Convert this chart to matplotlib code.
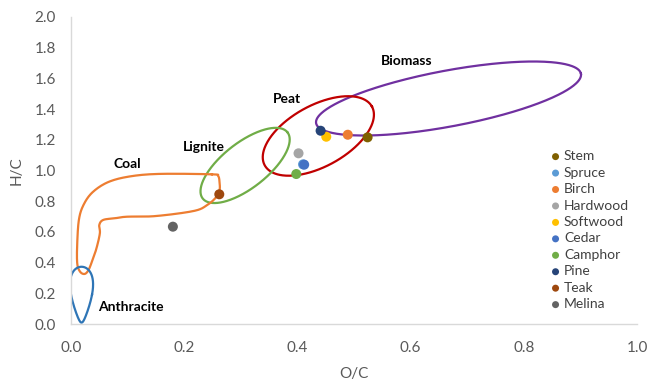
import numpy as np
import matplotlib
matplotlib.use("Agg")
import matplotlib.pyplot as plt
from matplotlib.ticker import FormatStrFormatter

# Biomass samples: atomic O/C and H/C ratios
samples = ["Stem", "Spruce", "Birch", "Hardwood", "Softwood",
           "Cedar", "Camphor", "Pine", "Teak", "Melina"]
o_c = [0.524, 0.410, 0.489, 0.402, 0.451, 0.412, 0.398, 0.441, 0.262, 0.180]
h_c = [1.216, 1.040, 1.233, 1.112, 1.220, 1.038, 0.977, 1.259, 0.845, 0.634]
sample_colors = ["#7F6000", "#5B9BD5", "#ED7D31", "#A5A5A5", "#FFC000",
                 "#4472C4", "#70AD47", "#264478", "#9E480E", "#636363"]

# Fuel regions approximated as ellipses:
# centre O/C, centre H/C, semi-major, semi-minor (in O/C units), tilt (deg)
region_names = ["Biomass", "Peat", "Lignite"]
region_center_oc = [0.667, 0.437, 0.3076]
region_center_hc = [1.469, 1.225, 1.033]
region_semi_major = [0.238, 0.108, 0.095]
region_semi_minor = [0.0494, 0.054, 0.040]
region_tilt = [10.6, 28.7, 38.0]
region_colors = ["#7030A0", "#C00000", "#70AD47"]

# Coal region outline (O/C, H/C)
coal_oc = [0.249, 0.158, 0.105, 0.066, 0.038, 0.022, 0.014, 0.011, 0.011,
           0.016, 0.024, 0.031, 0.038, 0.045, 0.051, 0.050, 0.057, 0.078,
           0.099, 0.149, 0.2165, 0.2407, 0.2566, 0.2625, 0.2625, 0.260]
coal_hc = [0.975, 0.978, 0.962, 0.925, 0.858, 0.775, 0.680, 0.526, 0.395,
           0.341, 0.326, 0.352, 0.417, 0.493, 0.591, 0.645, 0.678, 0.689,
           0.699, 0.703, 0.736, 0.775, 0.827, 0.873, 0.919, 0.964]

# Anthracite region (egg shape): centre, half-width, half-height
anth_center = (0.0186, 0.191)
anth_half_w = 0.0204
anth_half_h = 0.182

label_pos = {"Coal": (0.100, 1.042), "Lignite": (0.2345, 1.150),
             "Peat": (0.382, 1.466), "Biomass": (0.593, 1.713),
             "Anthracite": (0.105, 0.113)}

FONT = ["Lato", "DejaVu Sans"]
plt.rcParams["font.family"] = FONT

fig = plt.figure(figsize=(6.48, 3.87), dpi=100)
ax = fig.add_axes([71 / 648, 1 - 324 / 387, (637 - 71) / 648, (324 - 17) / 387])
ax.set_xlim(0, 1.0)
ax.set_ylim(0, 2.0)

# pixel scale of each axis, so tilted shapes keep their on-screen form
p0, p1 = ax.transData.transform([[0, 0], [1, 1]])
sx, sy = p1 - p0
ratio = sx / sy

t = np.linspace(0, 2 * np.pi, 400)
for cx, cy, a, b, ang, col in zip(region_center_oc, region_center_hc,
                                  region_semi_major, region_semi_minor,
                                  region_tilt, region_colors):
    th = np.deg2rad(ang)
    dx = a * np.cos(th) * np.cos(t) - b * np.sin(th) * np.sin(t)
    dy = a * np.sin(th) * np.cos(t) + b * np.cos(th) * np.sin(t)
    ax.plot(cx + dx, cy + dy * ratio, color=col, lw=1.6, zorder=2,
            clip_on=False)


def closed_catmull_rom(xs, ys, n=20):
    pts = np.column_stack([xs, ys])
    m = len(pts)
    out = []
    for i in range(m):
        q0, q1, q2, q3 = pts[(i - 1) % m], pts[i], pts[(i + 1) % m], pts[(i + 2) % m]
        u = np.linspace(0, 1, n, endpoint=False)[:, None]
        seg = 0.5 * ((2 * q1) + (-q0 + q2) * u
                     + (2 * q0 - 5 * q1 + 4 * q2 - q3) * u ** 2
                     + (-q0 + 3 * q1 - 3 * q2 + q3) * u ** 3)
        out.append(seg)
    out = np.vstack(out + [pts[:1]])
    return out[:, 0], out[:, 1]


cx_, cy_ = closed_catmull_rom(coal_oc, coal_hc)
ax.plot(cx_, cy_, color="#ED7D31", lw=1.6, zorder=2)

# anthracite egg
s = np.sin(t)
ax.plot(anth_center[0] + anth_half_w * np.cos(t) * (1 + 0.5 * s) / 1.1,
        anth_center[1] + anth_half_h * s,
        color="#2E75B6", lw=1.6, zorder=2)

for name, (lx, ly) in label_pos.items():
    ax.text(lx, ly, name, fontsize=10, fontweight="bold", color="#000000",
            ha="center", va="center", zorder=4)

for name, x, y, col in zip(samples, o_c, h_c, sample_colors):
    ax.scatter([x], [y], s=52, color=col, label=name, zorder=3,
               edgecolors="none")

ax.set_xticks(np.arange(0, 1.01, 0.2))
ax.set_yticks(np.arange(0, 2.01, 0.2))
ax.xaxis.set_major_formatter(FormatStrFormatter("%.1f"))
ax.yaxis.set_major_formatter(FormatStrFormatter("%.1f"))
ax.tick_params(length=0, labelsize=11, colors="#595959")
ax.tick_params(axis="x", pad=12)
ax.tick_params(axis="y", pad=11)
ax.set_xlabel("O/C", fontsize=11, color="#595959", labelpad=9)
ax.set_ylabel("H/C", fontsize=11, color="#595959", labelpad=8)
for side in ["top", "right"]:
    ax.spines[side].set_visible(False)
for side in ["left", "bottom"]:
    ax.spines[side].set_color("#D9D9D9")
    ax.spines[side].set_linewidth(1.0)

leg = ax.legend(loc="upper left", bbox_to_anchor=(0.834, 0.584), frameon=False,
                fontsize=10, markerscale=0.7, handletextpad=0.1,
                labelspacing=0.32, borderaxespad=0, handlelength=1.0)
for txt in leg.get_texts():
    txt.set_color("#404040")

fig.savefig("out.png", dpi=100)
